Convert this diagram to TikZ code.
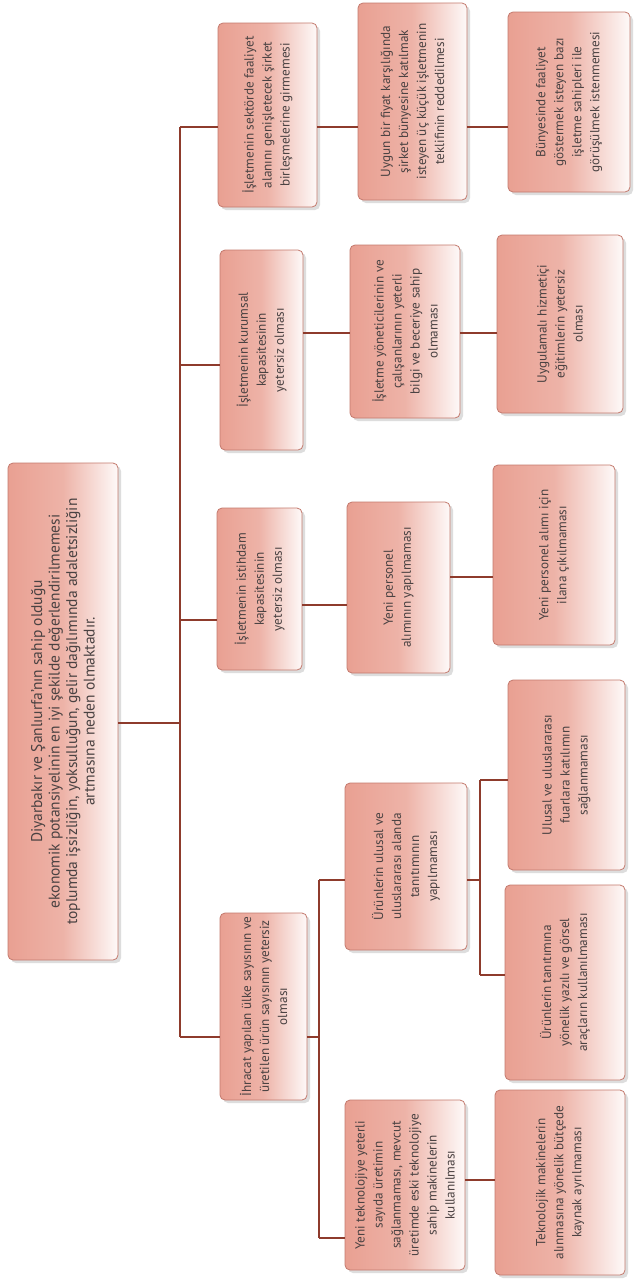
\documentclass[tikz,border=0pt]{standalone}
\usepackage{fontspec}
\setmainfont{PT Sans}
\usetikzlibrary{shadows}
\definecolor{boxpink}{HTML}{E9A092}
\definecolor{boxedge}{HTML}{C47A6E}
\definecolor{linkbrown}{HTML}{8E3B2C}
\definecolor{textgray}{HTML}{4A4242}

\begin{document}
\begin{tikzpicture}[x=1pt,y=-1pt,
  box/.style={draw=boxedge,line width=0.8pt,rounded corners=5pt,rotate=90,
    left color=boxpink,right color=boxpink!6!white,middle color=boxpink!80!white,
    drop shadow={shadow xshift=3pt,shadow yshift=-3pt,opacity=0.22,fill=black!60},
    align=center,inner sep=2pt,text=textgray,font=\fontsize{13.2}{18}\selectfont},
  link/.style={draw=linkbrown,line width=2.2pt}]
\useasboundingbox[fill=white] (0,0) rectangle (634,1283);
% root
\node[box,minimum width=497pt,minimum height=110pt,font=\fontsize{15.5}{17.5}\selectfont] (root) at (63,711.5)
  {Diyarbakır ve Şanlıurfa'nın sahip olduğu\\ekonomik potansiyelinin en iyi şekilde değerlendirilmemesi\\toplumda işsizliğin, yoksulluğun, gelir dağılımında adaletsizliğin\\artmasına neden olmaktadır.};
% first level
\node[box,minimum width=184pt,minimum height=99pt] (A1) at (267.5,115)
  {İşletmenin sektörde faaliyet\\alanını genişletecek şirket\\birleşmelerine girmemesi};
\node[box,minimum width=200pt,minimum height=83pt] (A2) at (261.5,350)
  {İşletmenin kurumsal\\kapasitesinin\\yetersiz olması};
\node[box,minimum width=162pt,minimum height=85pt] (A3) at (259.5,589)
  {İşletmenin istihdam\\kapasitesinin\\yetersiz olması};
\node[box,minimum width=187pt,minimum height=87pt] (A4) at (263.5,1006.5)
  {İhracat yapılan ülke sayısının ve\\üretilen ürün sayısının yetersiz\\olması};
% second level
\node[box,minimum width=197pt,minimum height=109pt] (B1) at (412.5,101.5)
  {Uygun bir fiyat karşılığında\\şirket bünyesine katılmak\\isteyen üç küçük işletmenin\\teklifinin reddedilmesi};
\node[box,minimum width=173pt,minimum height=110pt] (B2) at (405,331.5)
  {İşletme yöneticilerinin ve\\çalışanlarının yeterli\\bilgi ve beceriye sahip\\olmaması};
\node[box,minimum width=171pt,minimum height=103pt] (B3) at (398.5,587.5)
  {Yeni personel\\alımının yapılmaması};
\node[box,minimum width=167pt,minimum height=122pt] (B4) at (406,866.5)
  {Ürünlerin ulusal ve\\uluslararası alanda\\tanıtımının\\yapılmaması};
\node[box,minimum width=170pt,minimum height=120pt] (B5) at (405,1185)
  {Yeni teknolojiye yeterli\\sayıda üretimin\\sağlanmaması, mevcut\\üretimde eski teknolojiye\\sahip makinelerin\\kullanılması};
% third level
\node[box,minimum width=180pt,minimum height=122pt] (C1) at (569,102)
  {Bünyesinde faaliyet\\göstermek isteyen bazı\\işletme sahipleri ile\\görüşülmek istenmemesi};
\node[box,minimum width=178pt,minimum height=126pt] (C2) at (560,324)
  {Uygulamalı hizmetiçi\\eğitimlerin yetersiz\\olması};
\node[box,minimum width=180pt,minimum height=122pt] (C3) at (554,555)
  {Yeni personel alımı için\\ilana çıkılmaması};
\node[box,minimum width=190pt,minimum height=117pt] (C4) at (566.5,775)
  {Ulusal ve uluslararası\\fuarlara katılımın\\sağlanmaması};
\node[box,minimum width=195pt,minimum height=120pt] (C5) at (565,982.5)
  {Ürünlerin tanıtımına\\yönelik yazılı ve görsel\\araçların kullanılmaması};
\node[box,minimum width=185pt,minimum height=130pt] (C6) at (560,1182.5)
  {Teknolojik makinelerin\\alınmasına yönelik bütçede\\kaynak ayrılmaması};
% connectors
\coordinate (t0) at (180,723);
\coordinate (t1) at (180,127);
\coordinate (t2) at (180,365);
\coordinate (t3) at (180,620);
\coordinate (t4) at (180,1037);
\draw[link] (t1) -- (t4);
\draw[link] (root.south |- t0) -- (t0);
\draw[link] (t1) -- (A1.north |- t1);
\draw[link] (t2) -- (A2.north |- t2);
\draw[link] (t3) -- (A3.north |- t3);
\draw[link] (t4) -- (A4.north |- t4);
\coordinate (h1) at (0,127);
\coordinate (h2) at (0,333);
\coordinate (h3) at (0,605);
\coordinate (h3b) at (0,577);
\coordinate (h6) at (0,1180);
\draw[link] (A1.south |- h1) -- (B1.north |- h1);
\draw[link] (B1.south |- h1) -- (C1.north |- h1);
\draw[link] (A2.south |- h2) -- (B2.north |- h2);
\draw[link] (B2.south |- h2) -- (C2.north |- h2);
\draw[link] (A3.south |- h3) -- (B3.north |- h3);
\draw[link] (B3.south |- h3b) -- (C3.north |- h3b);
\coordinate (s4a) at (319,880);
\coordinate (s4b) at (319,1238);
\draw[link] (A4.south |- t4) -- (t4 -| s4a);
\draw[link] (s4a) -- (s4b);
\draw[link] (s4a) -- (B4.north |- s4a);
\draw[link] (s4b) -- (B5.north |- s4b);
\coordinate (s5a) at (480,780);
\coordinate (s5b) at (480,975);
\draw[link] (B4.south |- s4a) -- (s4a -| s5a);
\draw[link] (s5a) -- (s5b);
\draw[link] (s5a) -- (C4.north |- s5a);
\draw[link] (s5b) -- (C5.north |- s5b);
\draw[link] (B5.south |- h6) -- (C6.north |- h6);
\end{tikzpicture}
\end{document}
